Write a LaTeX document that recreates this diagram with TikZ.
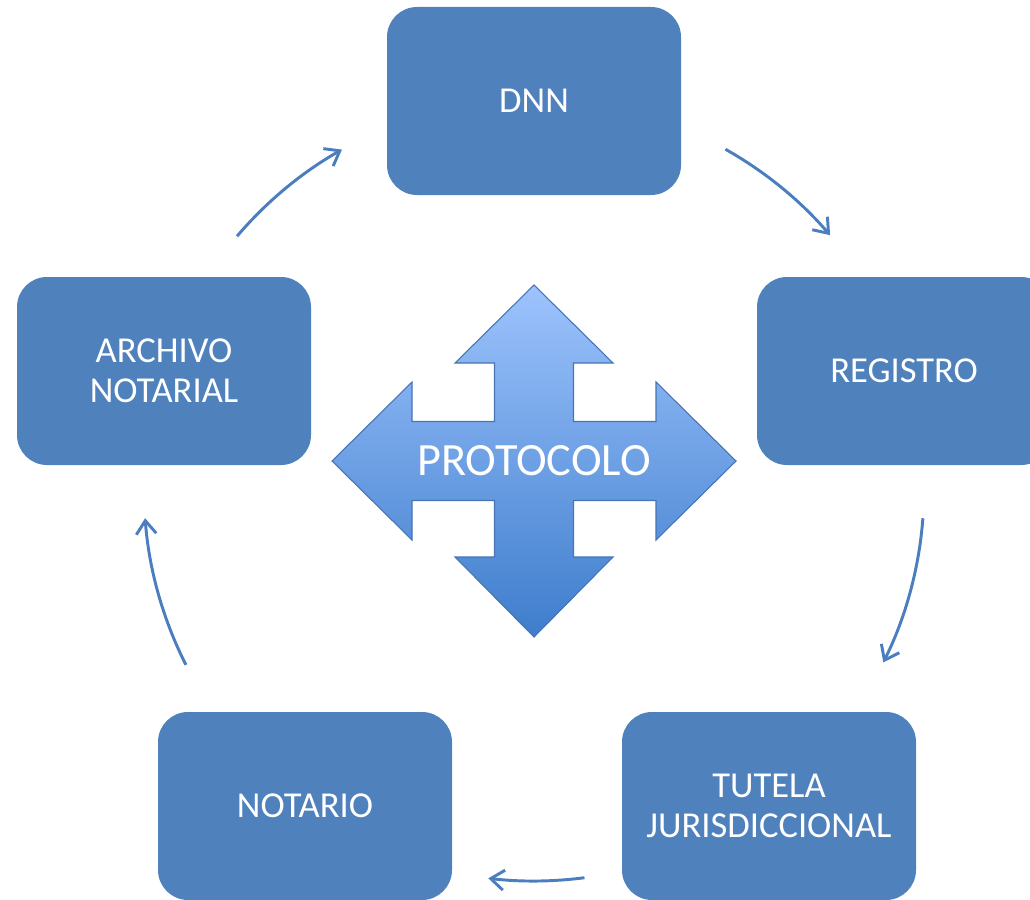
\documentclass[tikz,border=0pt]{standalone}
\usepackage{fontspec}
\setmainfont{Carlito}
\usetikzlibrary{arrows.meta}
\definecolor{boxblue}{HTML}{4F81BD}
\definecolor{arrblue}{HTML}{4A7EBE}
\definecolor{gtop}{HTML}{9DC3FD}
\definecolor{gbot}{HTML}{3E7DCC}
\definecolor{gedge}{HTML}{4674B4}
\tikzset{
  stagebox/.style={draw=none, fill=boxblue, rounded corners=22.5pt,
    minimum width=220.5pt, minimum height=141pt, text=white,
    font=\fontsize{27.4pt}{30pt}\selectfont, align=center, inner sep=0pt},
  cyclearrow/.style={draw=arrblue, line width=2.2pt,
    -{Straight Barb[length=10pt,width=15pt,line width=2.2pt]}},
  crossarrow/.style={top color=gtop, bottom color=gbot, draw=gedge, line width=0.8pt, line join=miter},
}
\begin{document}
\begin{tikzpicture}[x=0.75pt,y=0.75pt]
\useasboundingbox (0,0) rectangle (1030,-899);
% boxes
\node[stagebox] (dnn) at (534,-101) {DNN};
\node[stagebox] (reg) at (904,-371) {REGISTRO};
\node[stagebox] (tut) at (769,-806) {TUTELA\\JURISDICCIONAL};
\node[stagebox] (not) at (305,-806) {NOTARIO};
\node[stagebox] (arc) at (164,-371) {ARCHIVO\\NOTARIAL};
% central four-way arrow
\coordinate (cc) at (534,-461);
\shade[crossarrow, shift={(534,-461)}]
  (0,176) -- (79,98) -- (39.5,98) -- (39.5,39.5) -- (122,39.5) -- (122,79)
  -- (202,0) -- (122,-79) -- (122,-39.5) -- (39.5,-39.5) -- (39.5,-96)
  -- (79,-96) -- (0,-176) -- (-79,-96) -- (-39.5,-96) -- (-39.5,-39.5)
  -- (-122,-39.5) -- (-122,-79) -- (-202,0) -- (-122,79) -- (-122,39.5)
  -- (-39.5,39.5) -- (-39.5,98) -- (-79,98) -- cycle;
\node[text=white, font=\fontsize{34.7pt}{40pt}\selectfont, inner sep=0pt] (proto) at (cc) {PROTOCOLO};
% cycle arrows (arcs around the ring centre)
\coordinate (ring) at (534,-489);
\path (ring) ++(139.6:390) coordinate (a1s);
\path (ring) ++(60.6:390) coordinate (a2s);
\path (ring) ++(-4.3:390) coordinate (a3s);
\path (ring) ++(-82.6:392) coordinate (a4s);
\path (ring) ++(206.8:390) coordinate (a5s);
\draw[cyclearrow] (a1s) arc[start angle=139.6, end angle=119.5, radius=390];
\draw[cyclearrow] (a2s) arc[start angle=60.6, end angle=40.6, radius=390];
\draw[cyclearrow] (a3s) arc[start angle=-4.3, end angle=-26.4, radius=390];
\draw[cyclearrow] (a4s) arc[start angle=-82.6, end angle=-96.7, radius=392];
\draw[cyclearrow] (a5s) arc[start angle=206.8, end angle=184.3, radius=390];
\end{tikzpicture}
\end{document}
